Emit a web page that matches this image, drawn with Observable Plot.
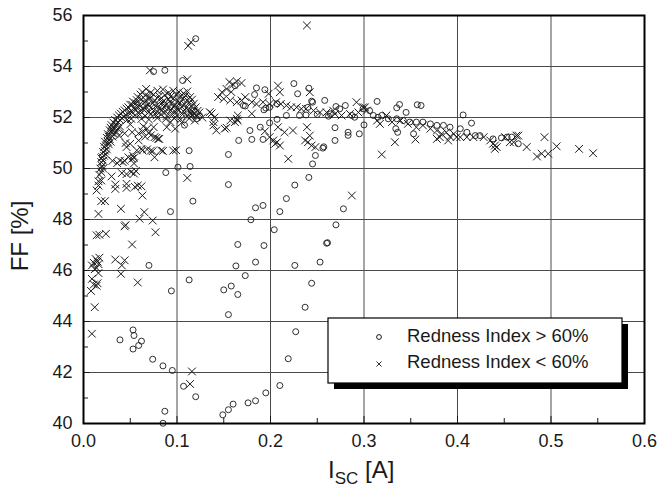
<!DOCTYPE html>
<html><head><meta charset="utf-8">
<script src="https://cdn.jsdelivr.net/npm/d3@7"></script>
<script src="https://cdn.jsdelivr.net/npm/@observablehq/plot@0.6"></script>
<style>body{margin:0;background:#fff;}</style>
</head><body><div id="chart"></div>
<script>
const xTicks = [0, 0.1, 0.2, 0.3, 0.4, 0.5, 0.6];
const xMinorTicks = [0.05, 0.15, 0.25, 0.35, 0.45, 0.55];
const yTicks = [40, 42, 44, 46, 48, 50, 52, 54, 56];
const yMinorTicks = [41, 43, 45, 47, 49, 51, 53, 55];
const xTitle = ["I", "SC", " [A]"];
const yTitle = "FF [%]";
const legendLabels = ["Redness Index > 60%", "Redness Index < 60%"];

// Redness Index > 60% : [Isc (A), FF (%)]
const highRedness = [
[0.120,55.09],[0.075,53.8],[0.087,53.85],[0.106,53.45],[0.118,52.27],[0.124,52.08],[0.115,52.15],[0.121,51.95],[0.113,50.7],[0.114,50.08],[0.101,50.05],[0.088,49.84],[0.117,48.72],[0.093,48.31],[0.108,51.7],
[0.070,46.2],[0.094,45.2],[0.113,45.63],[0.053,43.67],[0.054,43.45],[0.039,43.28],[0.053,42.92],[0.059,43.06],[0.062,43.23],[0.074,42.52],[0.085,42.26],[0.095,42.08],[0.107,41.46],[0.120,41.05],[0.087,40.48],[0.085,40.01],
[0.149,40.34],[0.155,40.54],[0.160,40.76],[0.176,40.81],[0.184,40.89],[0.195,41.2],[0.210,41.49],[0.219,42.54],[0.227,43.6],[0.237,44.56],[0.244,45.5],[0.253,46.33],[0.226,46.2],[0.260,47.07],
[0.150,45.24],[0.158,45.39],[0.165,45.06],[0.155,44.27],[0.163,46.18],[0.173,45.8],[0.184,46.33],[0.165,47.02],[0.193,46.98],
[0.179,47.99],[0.184,48.46],[0.192,48.55],[0.210,48.31],[0.204,47.6],[0.217,48.82],[0.226,49.35],[0.241,49.65],[0.245,50.18],[0.248,50.51],[0.256,50.8],[0.155,49.37],[0.155,50.55],
[0.178,51.49],[0.180,51.14],[0.166,51.1],[0.189,51.62],[0.199,51.79],[0.207,51.93],[0.192,51.14],[0.217,52.08],
[0.225,53.33],[0.229,52.93],[0.241,53.15],[0.244,52.64],[0.258,52.67],[0.240,52.4],[0.162,53.25],[0.185,53.16],[0.194,53.09],[0.183,52.9],[0.173,52.45],[0.195,52.37],[0.207,52.54],[0.238,52.1],[0.231,52.08],[0.250,52.12],[0.262,52.05],[0.171,52.47],[0.193,52.3],[0.199,52.4],[0.245,52.6],
[0.278,48.42],[0.270,47.79],[0.261,47.09],
[0.269,51.6],[0.269,51.1],[0.283,51.42],[0.283,51.3],[0.295,51.36],[0.300,51.71],[0.314,52.63],[0.335,52.38],[0.338,52.51],[0.357,52.5],[0.361,52.47],[0.406,52.1],[0.415,51.78],[0.334,51.56],[0.336,51.42],[0.353,51.36],[0.345,52.2],[0.270,52.43],[0.280,52.47],
[0.264,52.14],[0.274,52.34],[0.287,52.08],[0.290,52.01],[0.299,52.34],[0.306,52.27],[0.310,52.08],[0.315,52.01],[0.319,52.08],[0.326,51.95],[0.335,51.95],[0.342,51.88],[0.349,51.82],[0.356,51.82],[0.363,51.82],[0.371,51.75],[0.378,51.69],[0.385,51.69],[0.392,51.62],[0.403,51.56],[0.410,51.42],[0.419,51.29],[0.424,51.29],[0.438,51.16],[0.447,51.2],[0.453,51.23],[0.458,51.23],[0.465,50.97],[0.257,50.85]
];

// Redness Index < 60% : [Isc (A), FF (%)]
const lowRedness = [
[0.239,55.61],[0.112,54.81],[0.115,54.95],[0.071,53.85],[0.111,53.5],
[0.019,49.86],[0.030,49.69],[0.041,49.82],[0.046,49.78],[0.051,49.86],[0.054,49.8],[0.056,49.9],
[0.016,49.5],[0.017,49.75],[0.014,49.14],[0.019,49.53],[0.016,49.33],
[0.034,49.37],[0.034,49.2],[0.046,49.4],[0.046,49.24],[0.055,49.28],[0.058,49.33],[0.062,49.3],[0.063,48.94],
[0.019,48.72],[0.023,48.72],[0.016,48.22],[0.040,48.42],[0.065,48.29],[0.060,48.03],[0.074,47.96],[0.044,47.73],[0.045,47.78],[0.017,47.4],[0.014,47.38],[0.024,47.44],[0.077,47.5],[0.052,47.02],
[0.011,46.3],[0.013,46.45],[0.015,46.35],[0.017,46.5],[0.016,46.25],[0.009,46.2],[0.012,46.05],[0.014,46.1],
[0.034,46.43],[0.044,46.4],[0.041,46.2],[0.040,45.87],
[0.009,45.67],[0.008,45.2],[0.011,45.45],[0.014,45.4],[0.015,45.5],[0.016,45.9],[0.012,44.56],[0.009,43.52],[0.058,45.53],
[0.116,42.04],[0.114,41.55],[0.111,49.63],
[0.050,51.73],[0.052,51.42],[0.059,51.38],[0.063,51.45],[0.068,51.56],[0.075,51.62],[0.076,51.23],[0.078,51.2],[0.038,51.29],[0.044,51.38],[0.036,50.21],[0.042,50.25],[0.048,50.44],[0.046,50.84],[0.050,50.97],[0.054,50.42],[0.053,50.5],[0.052,50.38],[0.057,50.71],[0.063,50.71],[0.068,50.75],[0.072,50.7],[0.074,50.68],[0.083,50.71],[0.085,50.69],[0.096,50.7],[0.099,50.72],[0.089,51.62],[0.093,51.82],[0.098,51.56],[0.105,51.8],[0.064,51.65],[0.059,51.1],[0.066,51.25],[0.081,51.16],[0.054,50.2],[0.044,50.3],[0.031,50.3],[0.039,50.31],[0.080,51.16],[0.076,50.44],[0.062,50.77],[0.045,51.0],[0.070,51.4],[0.072,51.3],
[0.018,50.0],[0.019,50.25],[0.020,50.1],[0.020,50.45],[0.021,50.3],[0.021,50.65],[0.022,50.5],[0.022,50.85],[0.023,50.7],[0.023,51.05],[0.024,50.9],[0.025,51.2],[0.025,50.75],[0.026,51.05],[0.026,51.35],[0.027,51.25],[0.028,51.5],[0.028,51.15],[0.029,51.6],[0.030,51.4],[0.030,51.7],[0.031,51.5],[0.032,51.8],[0.033,51.6],[0.034,51.9],[0.035,51.72],[0.036,52.0],[0.037,51.82],[0.038,52.08],[0.039,51.9],[0.040,52.15],[0.041,51.98],[0.042,52.22],[0.043,52.02],[0.044,52.28],[0.045,52.1],[0.046,52.35],[0.047,51.92],[0.048,52.4],[0.049,52.18],[0.050,52.5],[0.051,51.95],[0.024,50.55],[0.027,50.95],[0.029,51.05],[0.031,51.25],[0.033,51.35],[0.035,51.45],[0.037,51.55],[0.039,51.65],[0.021,50.0],[0.019,50.4],
[0.063,53.0],[0.067,53.12],[0.072,52.98],[0.079,53.05],[0.085,53.1],[0.091,52.97],[0.096,53.05],[0.102,53.0],[0.107,52.95],[0.111,53.02],
[0.058,52.8],[0.061,52.9],[0.066,52.86],[0.070,52.82],[0.075,52.9],[0.081,52.84],[0.087,52.88],[0.093,52.82],[0.099,52.9],[0.104,52.84],[0.109,52.86],[0.114,52.8],
[0.053,52.62],[0.057,52.68],[0.062,52.72],[0.067,52.66],[0.071,52.74],[0.076,52.68],[0.082,52.72],[0.086,52.66],[0.091,52.7],[0.096,52.74],[0.101,52.66],[0.106,52.72],[0.111,52.68],[0.116,52.7],
[0.052,52.5],[0.056,52.56],[0.060,52.52],[0.065,52.58],[0.069,52.52],[0.074,52.56],[0.079,52.5],[0.084,52.57],[0.089,52.52],[0.094,52.56],[0.098,52.5],[0.103,52.56],[0.108,52.52],[0.113,52.58],[0.118,52.54],
[0.054,52.38],[0.058,52.42],[0.063,52.36],[0.067,52.42],[0.072,52.38],[0.077,52.44],[0.081,52.36],[0.086,52.42],[0.091,52.38],[0.096,52.42],[0.100,52.36],[0.105,52.42],[0.110,52.38],[0.115,52.44],[0.120,52.4],
[0.052,52.22],[0.056,52.28],[0.061,52.24],[0.065,52.28],[0.070,52.22],[0.075,52.27],[0.079,52.22],[0.084,52.28],[0.088,52.23],[0.093,52.27],[0.098,52.22],[0.102,52.28],[0.107,52.24],[0.112,52.28],[0.117,52.22],[0.122,52.26],
[0.055,52.08],[0.060,52.12],[0.066,52.06],[0.072,52.12],[0.078,52.08],[0.083,52.12],[0.089,52.06],[0.095,52.12],[0.100,52.08],[0.106,52.12],[0.111,52.06],[0.116,52.1],[0.121,52.04],
[0.062,51.95],[0.070,51.92],[0.079,51.98],[0.088,51.94],[0.097,51.97],[0.104,51.92],[0.113,51.96],[0.119,51.88],[0.124,52.2],[0.127,52.0],
[0.135,52.21],[0.139,51.82],[0.142,51.49],[0.153,51.6],[0.162,51.82],[0.164,51.95],[0.165,52.08],[0.137,52.16],[0.140,52.0],[0.139,51.69],[0.151,51.56],[0.157,51.88],[0.165,51.88],[0.180,52.15],
[0.156,53.39],[0.160,53.29],[0.164,53.42],[0.169,53.35],[0.153,53.12],[0.148,52.99],[0.144,52.8],[0.150,52.73],[0.157,52.67],[0.164,52.6],[0.169,52.67],[0.173,52.8],[0.158,53.0],
[0.180,52.6],[0.185,52.53],[0.192,52.6],[0.199,52.53],[0.206,52.6],[0.211,52.53],[0.217,52.47],[0.222,52.4],[0.228,52.4],[0.233,52.34],[0.238,52.34],[0.246,52.27],[0.253,52.2],[0.260,52.2],[0.269,52.14],
[0.208,53.25],[0.210,52.99],[0.198,52.93],[0.242,52.99],
[0.194,51.46],[0.199,51.23],[0.203,51.1],[0.207,51.03],[0.210,50.9],[0.205,50.97],[0.208,51.62],[0.215,51.42],[0.224,51.49],[0.239,51.62],[0.237,51.1],[0.240,51.03],[0.244,50.9],[0.248,50.84],[0.242,51.29],[0.219,50.38],
[0.287,48.94],[0.319,50.55],[0.292,52.6],[0.301,52.4],[0.333,51.03],[0.355,51.14],
[0.267,52.27],[0.276,52.08],[0.285,52.14],[0.294,52.2],[0.299,52.4],[0.303,52.27],[0.314,51.88],[0.317,51.75],[0.324,52.08],[0.330,51.82],[0.339,51.88],[0.347,51.75],[0.356,51.62],[0.363,51.69],[0.371,51.56],[0.378,51.49],[0.383,51.36],[0.388,51.42],[0.396,51.36],[0.403,51.23],[0.410,51.23],[0.417,51.23],[0.428,51.23],[0.435,51.1],[0.438,50.97],[0.442,50.84],[0.451,51.23],[0.456,51.03],[0.460,51.03],[0.463,51.29],[0.474,50.84],[0.378,51.16],[0.381,51.23],[0.390,51.1],[0.392,51.25],[0.399,51.23],[0.440,50.9],[0.440,50.77],[0.465,51.29],[0.485,50.47],[0.490,50.58],[0.497,50.58],[0.493,51.23],[0.506,50.87],[0.530,50.77],[0.545,50.6]
];

const ink = "#1a1a1a";
const font = "'Liberation Sans', Arial, sans-serif";
const chart = Plot.plot({
  width: 658, height: 496,
  marginLeft: 83, marginRight: 14, marginTop: 15, marginBottom: 73,
  style: {fontFamily: font, background: "#fff", color: ink},
  x: {domain: [0, 0.6], axis: null},
  y: {domain: [40, 56], axis: null},
  marks: [
    Plot.gridX(xTicks, {stroke: "#4a4a4a", strokeOpacity: 1, strokeWidth: 1}),
    Plot.gridY(yTicks, {stroke: "#4a4a4a", strokeOpacity: 1, strokeWidth: 1}),
    Plot.axisX(xMinorTicks, {tickSize: 5, dy: -5, stroke: ink, fill: "none", label: null}),
    Plot.axisX(xTicks, {tickSize: 7, dy: -7, stroke: ink, fill: "none", label: null}),
    Plot.axisY(yMinorTicks, {tickSize: 5, dx: 5, stroke: ink, fill: "none", label: null}),
    Plot.axisY(yTicks, {tickSize: 7, dx: 7, stroke: ink, fill: "none", label: null}),
    Plot.axisX(xTicks, {tickSize: 0, tickPadding: 11, fontSize: 18, tickFormat: d3.format(".1f"), label: null, fill: ink}),
    Plot.axisY(yTicks, {tickSize: 0, tickPadding: 11, fontSize: 18, label: null, fill: ink}),
    Plot.dot(highRedness, {x: d => d[0], y: d => d[1], r: 3, stroke: ink, strokeWidth: 0.9, fill: "none"}),
    Plot.dot(lowRedness, {x: d => d[0], y: d => d[1], r: 3.6, symbol: "times", stroke: ink, strokeWidth: 1}),
    Plot.frame({stroke: "#000", strokeWidth: 2})
  ]
});
document.getElementById("chart").append(chart);

const svg = d3.select(chart);
// axis titles
const xt = svg.append("text").attr("x", 328).attr("y", 478).attr("text-anchor", "start")
  .attr("font-size", 24).attr("fill", ink).attr("font-family", font);
xt.append("tspan").text(xTitle[0]);
xt.append("tspan").attr("font-size", 17).attr("dy", 6).text(xTitle[1]);
xt.append("tspan").attr("dy", -6).text(xTitle[2]);
svg.append("text").attr("transform", "translate(28,236) rotate(-90)")
  .attr("text-anchor", "middle").attr("font-size", 24).attr("fill", ink)
  .attr("font-family", font).text(yTitle);

// legend
const lg = svg.append("g");
lg.append("rect").attr("x", 334).attr("y", 324).attr("width", 294).attr("height", 65).attr("fill", "#000");
lg.append("rect").attr("x", 328).attr("y", 318).attr("width", 294).attr("height", 65)
  .attr("fill", "#fff").attr("stroke", "#000").attr("stroke-width", 1.2);
lg.append("circle").attr("cx", 379).attr("cy", 337).attr("r", 2.4).attr("fill", "none").attr("stroke", ink);
lg.append("path").attr("d", "M376.5,361.5L381.5,366.5M381.5,361.5L376.5,366.5").attr("stroke", ink).attr("stroke-width", 0.9);
legendLabels.forEach((t, i) => {
  lg.append("text").attr("x", 407).attr("y", 342 + i * 26).attr("text-anchor", "start")
    .attr("font-size", 18.5).attr("fill", ink).attr("font-family", font).text(t);
});
</script>
</body></html>
